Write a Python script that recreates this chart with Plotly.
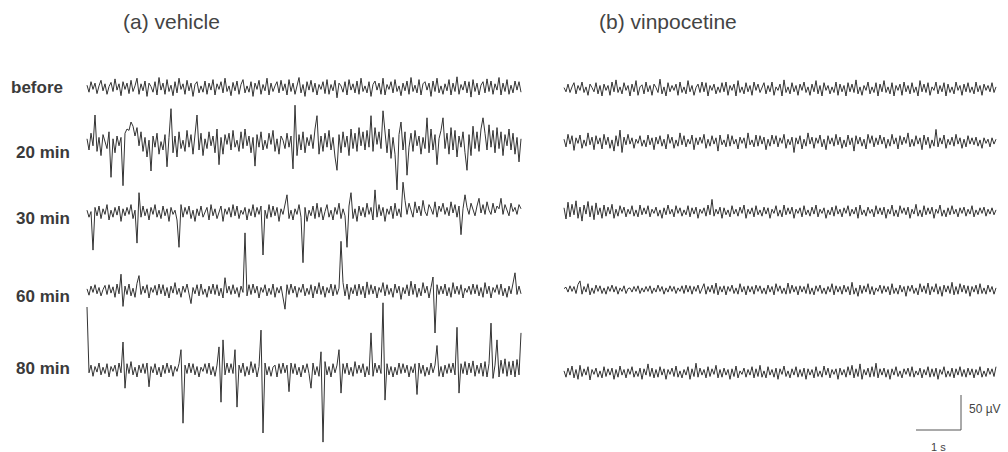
import numpy as np
import plotly.graph_objects as go

# ---------------- data (µV) ----------------
ROW_LABELS = ["before", "20 min", "30 min", "60 min", "80 min"]
PANEL_TITLES = ["(a) vehicle", "(b) vinpocetine"]

VEH_BEFORE = [4,-6,9,-2,7,-8,3,11,-4,6,-9,2,8,-5,13,-3,6,-11,9,-2,
              7,-8,11,-5,3,14,-9,6,-4,10,-12,7,2,-6,9,-10,15,-3,7,-9,
              12,-5,4,-11,9,-7,14,-2,6,-9,11,-4,7,-12,5,9,-7,3,-6,10,
              -9,7,-3,12,-10,6,-2,9,-7,14,-5,3,-11,8,-4,10,-9,5,12,-7,
              3,-6,9,-12,7,-2,11,-9,5,-4,14,-10,7,-5,3,9,-7,11,-4,6,
              -10,12,-5,7,-9,4,15,-7,5,-12,9,-3,11,-6,7,-10,5,-2,9,-8,
              12,-9,5,-4,11,-14,7,3,-6,9,-10,12,-3,6,-7,10,-9,14,-5,3,
              -7,9,-12,5,10,-3,7,-9,14,-10,5,-2,9,-7,12,-5,3,-11,7,-4,
              10,-9,15,-5,4,-7,12,-10,6,9,-3,7,-12,10,-5,14,-7,3,-9,6,
              -4,12,-10,7,-5,16,-9,5,-3,10,-7,9,-13,12,-5,7,-10,4,9,-7,
              13,-5,10,-9,6,-3,15,-10,7,-5,12,-9,4,-7,10,-3,9,-6]
VEH_20 = [6,-10,14,-4,40,-12,8,-18,12,2,-8,16,-49,6,-14,10,-4,8,-61,14,
          20,18,30,24,10,22,-4,16,-12,8,-20,4,-40,10,-6,14,-16,2,-10,12,
          -34,8,49,-14,10,-20,16,-8,4,-12,18,-6,12,-16,8,40,-10,14,-18,6,
          -8,16,-4,10,-14,20,-31,8,-16,12,-2,14,-10,18,-6,4,-12,16,-8,20,
          -4,10,-14,8,-33,12,-6,16,-10,4,-8,14,-2,18,-12,6,-16,10,4,-8,
          14,-6,10,-37,54,-18,12,-10,16,-14,8,-4,12,-8,20,39,-16,10,-12,14,
          -6,18,-10,8,-20,-39,12,-14,16,-6,10,-18,20,-8,14,-12,22,-4,16,-10,
          18,-6,39,-12,22,-2,16,-8,46,10,-14,20,-22,8,-16,-67,12,30,-10,16,
          -46,-6,14,-12,18,-4,10,-16,8,-8,36,-14,20,-10,12,-31,6,18,36,-8,
          14,-16,22,-10,18,-20,10,-6,16,-14,-39,12,-18,24,-8,16,-12,20,36,14,
          -10,26,-6,18,-14,22,-8,16,-18,12,-4,20,-10,14,-16,8,-27,6]
VEH_30 = [4,-6,2,-53,8,-4,10,-8,6,-2,12,-10,4,-6,8,-3,10,-12,6,-4,
          8,-2,12,-8,4,-43,29,-6,10,-4,6,-10,8,-2,12,-6,4,-8,10,-4,
          6,-12,8,-2,4,-10,-49,12,-6,8,-2,10,-8,4,-12,6,-4,10,-6,2,
          8,-10,12,-4,6,-8,2,10,-12,6,-2,8,-6,12,-4,10,-8,4,-2,8,
          -10,6,-4,12,-6,8,-2,10,-60,4,-8,12,-6,10,-4,8,-12,6,-2,10,
          26,-8,4,-10,6,-2,12,-6,-71,8,-12,4,-4,10,-8,14,-6,8,-10,2,
          12,-6,4,-10,8,-2,14,-8,6,-4,-49,10,29,-8,6,-12,10,-4,8,-6,
          14,-2,8,-10,33,-6,12,-4,8,-12,6,-2,10,-8,14,-4,6,-6,44,18,
          -2,14,4,-6,16,0,10,-4,18,2,-4,12,6,-2,16,-6,10,2,14,-2,
          8,-4,16,0,12,-6,10,-31,6,26,8,-2,14,4,-4,10,21,0,12,-2,
          16,4,-2,14,0,10,6,21,-2,12,4,-4,14,2,8,-2,12,6]
VEH_60 = [3,-6,7,-2,9,-4,5,-7,2,8,-5,9,-3,6,-9,10,-4,24,-22,7,
          -5,10,-7,4,-9,11,22,-5,7,-3,9,-10,5,-2,8,-6,10,-4,9,-7,
          5,-10,7,-3,12,-5,4,-9,7,-2,10,-7,-18,5,-4,9,-7,10,-5,3,
          -9,7,-4,10,-5,9,-7,4,-10,19,-3,7,-5,9,-4,5,-9,7,-2,83,
          -7,9,-5,10,-3,7,-10,5,-2,9,-7,4,-5,10,-9,5,-3,7,-10,-26,
          9,-5,10,-3,7,-9,5,-2,10,-7,4,-5,9,-10,7,-4,12,-5,7,-9,
          5,-3,10,-7,9,-5,4,71,12,-7,10,-12,5,-4,9,-7,10,-5,7,-10,
          13,-5,9,-4,7,-10,5,-2,12,-7,9,-5,4,-9,10,-3,7,-12,5,-4,
          9,-7,14,-5,10,-9,4,-7,12,-3,7,-10,5,20,-60,9,-5,7,-4,10,
          -7,5,-9,12,-4,7,-5,9,-10,4,-2,7,-5,10,-4,9,-7,5,-9,12,
          -4,7,-10,5,-2,9,-5,10,-7,4,-9,7,-4,10,26,-5,7,-4]
VEH_80 = [90,-4,7,-9,5,-3,10,-7,4,-5,9,-10,5,-2,7,-9,10,-4,40,-26,
          9,-5,12,-7,4,-10,7,-4,9,-5,10,-24,5,-4,9,-7,4,-10,7,-5,
          10,-4,7,-9,5,-2,9,29,-76,7,-5,10,-4,9,-7,5,-10,4,-2,9,
          -5,10,-7,5,-9,7,33,-46,43,-7,10,-4,9,-5,29,-53,7,-4,10,-9,
          5,-7,12,-4,9,-10,5,57,-90,10,-7,5,-9,4,7,-10,9,-5,10,-4,
          7,-31,10,-5,9,-7,4,-10,7,-4,9,-5,-26,10,-7,5,-9,26,-103,12,
          -7,5,-10,9,-4,7,29,-33,9,-5,10,-7,4,-9,12,-5,7,-4,9,-10,
          5,-7,53,-9,10,-4,7,-5,96,-43,9,-7,5,-10,4,-7,10,-5,9,-4,
          7,-10,5,-4,9,-35,10,-5,7,-9,4,-7,10,-4,7,35,-9,5,-10,7,
          -5,9,-4,10,-7,61,-33,9,-5,12,-7,10,-4,13,-9,7,-5,10,-9,12,
          -10,9,67,-12,7,43,-10,14,-5,16,-9,12,-7,13,-10,15,-7,53]

VIN_BEFORE = [2,-4,7,-5,3,9,-7,5,-2,10,-5,3,-9,7,2,-4,9,-7,5,-10,
              7,-2,5,-9,10,-4,13,-5,3,-7,9,-2,5,-10,7,-4,12,-9,3,6,
              -7,10,-4,5,-9,7,2,-5,14,-7,3,-10,9,-4,5,-2,7,-9,10,-5,
              3,-7,12,-4,5,-9,2,7,-5,10,-4,9,-10,5,-2,7,-7,3,-5,9,
              -4,10,-9,5,-2,7,-10,12,-5,3,-7,9,-4,5,-9,10,-2,7,-5,3,
              9,-7,5,-4,10,-9,3,-2,7,-10,13,-5,3,-7,9,-4,5,-9,7,-2,
              10,-5,3,-9,7,-4,12,-7,5,-10,9,-2,5,-7,3,-5,10,-9,7,-4,
              5,-10,9,-4,7,-5,13,-7,3,-9,5,-2,10,-7,3,-5,9,-10,7,-4,
              12,-5,3,-7,9,-10,5,-2,7,-9,10,-4,5,-7,9,-5,3,-10,12,-4,
              7,-5,9,-9,3,-2,10,-7,5,-4,9,-10,7,-5,3,-7,10,-2,5,-9,
              7,-4,9,-5,3,-7,10,-4,5,-9,7,-2,5,-4,9,-5,3]
VIN_20 = [4,-7,11,-3,9,-12,6,-2,10,-9,3,-6,13,-4,7,-11,9,-3,6,-10,
          11,-4,7,-9,3,-13,9,-6,17,-15,7,-4,11,-3,6,-9,4,-2,9,-6,
          3,-7,10,-4,6,-11,7,-3,9,-6,4,-10,11,-2,7,-9,3,-6,13,-4,
          9,-7,4,-3,10,-11,6,-4,7,-2,11,-9,4,-6,9,-3,6,-13,10,-4,
          3,-7,11,-6,9,-3,4,-10,7,-2,6,-9,13,-4,3,-7,10,-6,9,-3,
          7,-11,4,-6,10,-3,9,-7,6,-2,11,-9,4,-4,7,-15,6,-3,9,-10,
          4,-6,13,-3,7,-9,6,-2,10,-7,4,-11,9,-3,6,-6,11,-4,7,-9,
          3,-7,10,-4,6,-13,9,-3,7,-6,4,-10,11,-2,9,-7,6,-4,10,-3,
          7,-9,4,-6,11,-3,6,-10,9,-4,7,-2,13,-7,4,-6,9,-3,6,-11,
          10,-4,7,-9,3,-6,18,-7,6,-3,10,-9,4,-4,7,-6,11,-3,6,-9,
          4,-7,9,-3,6,-4,7,-6,3,-9,6,-2,4,-7,6,-3,4]
VIN_30 = [6,-10,14,-7,11,-4,16,-9,7,-13,10,-3,15,-7,9,-11,13,-4,6,-9,
          10,-6,7,-3,11,-9,4,-6,9,-2,7,-7,4,-3,9,-6,3,-7,10,-4,
          6,-3,9,-7,4,-2,7,-6,3,-9,6,-4,10,-3,4,-7,9,-2,6,-6,
          3,-4,9,-7,6,-3,7,-9,4,-2,6,-6,10,-4,18,-6,4,-3,7,-9,
          6,-4,3,-7,9,-3,4,-6,7,-2,10,-9,4,-3,6,-7,9,-4,3,-6,
          7,-3,6,-9,4,-2,9,-6,3,-7,10,-4,6,-3,7,-9,4,-2,6,-7,
          9,-4,3,-6,7,-3,10,-7,4,-2,6,-9,3,-4,7,-6,9,-3,4,-7,
          6,-2,9,-6,4,-3,7,-9,10,-4,3,-6,7,-2,4,-7,9,-3,6,-4,
          7,-9,4,-3,10,-6,3,-7,9,-2,6,-4,7,-9,4,-3,11,-6,3,-7,
          9,-4,6,-3,7,-9,4,-2,10,-6,3,-7,6,-4,9,-3,4,-7,6,-2,
          7,-6,4,-3,9,-7,3,-4,6,-2,7,-6,4,-3,6,-4,3]
VIN_60 = [2,4,-3,6,-2,5,-5,8,13,-6,5,-3,9,-7,3,-5,7,-2,6,-5,
          3,-6,5,-2,7,-3,5,-6,3,-2,6,-5,2,3,-3,5,-2,6,-5,3,
          -3,5,-2,6,-5,3,-3,7,-2,5,-6,3,-3,6,-2,5,-5,3,-2,6,
          -5,7,-3,6,-6,5,-2,7,-5,3,9,-6,5,-3,7,-5,10,-7,5,-3,
          6,-7,5,-2,7,-5,3,-6,9,-3,5,-7,6,-3,5,-6,7,-2,6,-5,
          3,-6,7,-3,5,-7,9,-2,6,-5,3,-6,10,-5,7,-3,5,-7,6,-3,
          5,-5,9,-6,3,-7,6,-2,7,-5,3,-6,5,-3,9,-7,6,-3,5,-6,
          7,-3,5,-7,11,-6,3,-9,7,-5,6,-3,9,-6,5,-7,3,-2,7,-5,
          6,-3,5,-7,9,-5,3,-6,7,-3,5,-9,6,-2,7,-5,3,-7,9,-3,
          6,-5,10,-7,5,-3,9,-6,5,-9,7,-3,6,-5,11,-7,5,-6,9,-3,
          7,-5,6,-9,5,-3,7,-6,9,-5,3,-6,7,-3,5,-6,3]
VIN_80 = [3,-6,7,-3,10,-7,5,-9,11,-5,6,-3,9,-10,5,-2,7,-6,3,-7,
          9,-5,6,-3,7,-9,5,-6,10,-3,5,-7,6,-2,9,-6,3,-5,7,-9,
          6,-3,13,-5,7,-7,5,-6,9,-3,6,-9,5,-2,7,-5,10,-6,3,-7,
          5,-3,9,-9,6,-5,14,-6,7,-3,5,-7,9,-5,6,-2,11,-7,5,-6,
          7,-3,5,-9,6,-5,10,-7,3,-2,7,-6,5,-3,9,-7,6,-5,11,-6,
          3,-7,9,-3,5,-6,7,-9,6,-2,10,-5,3,-7,6,-3,9,-6,5,-5,
          7,-9,6,-3,5,-7,9,-5,3,-6,10,-3,7,-7,5,-2,6,-9,7,-3,
          5,-6,9,-3,11,-7,6,-5,13,-9,5,-3,7,-6,9,-5,14,-7,6,-3,
          7,-6,5,-9,6,-3,9,-5,3,-7,6,-2,7,-5,9,-6,3,-3,7,-7,
          5,-3,9,-6,6,-5,7,-9,5,-2,9,-6,3,-5,7,-7,6,-3,9,-5,
          5,-6,7,-3,6,-7,5,-3,9,-6,3,-5,7,-2,6,-5,9]

VEHICLE = [VEH_BEFORE, VEH_20, VEH_30, VEH_60, VEH_80]
VINPO = [VIN_BEFORE, VIN_20, VIN_30, VIN_60, VIN_80]

DT = 2 / 45.0          # s between samples
SCALE_UV = 50          # scale bar, µV
SCALE_S = 1            # scale bar, s

# ---------------- layout (pixel geometry) ----------------
W, H = 1008, 452
PX_PER_S = 45.0
PX_PER_UV = 35.0 / 50.0
VEH_ROWS_PX = [88, 143, 213, 291, 370]
VIN_ROWS_PX = [89, 142, 212, 290, 373]
LABEL_Y_PX = [88, 152, 218, 296, 368]
VEH_X0_PX, VIN_X0_PX = 87, 564
COLOR = "#333333"
FONT = "Liberation Sans, Arial, Helvetica, sans-serif"


def y_uv(py):
    return (H - py) / PX_PER_UV


fig = go.Figure()
for series, rows, x0 in [(VEHICLE, VEH_ROWS_PX, VEH_X0_PX), (VINPO, VIN_ROWS_PX, VIN_X0_PX)]:
    for vals, py in zip(series, rows):
        v = np.asarray(vals, dtype=float)
        t = x0 / PX_PER_S + np.arange(len(v)) * DT
        fig.add_trace(go.Scatter(x=t, y=v + y_uv(py), mode="lines",
                                 line=dict(color=COLOR, width=1), hoverinfo="skip",
                                 showlegend=False))

# scale bar
bx, by = 961 / PX_PER_S, y_uv(430)
fig.add_trace(go.Scatter(x=[bx - SCALE_S, bx, bx], y=[by, by, by + SCALE_UV], mode="lines",
                         line=dict(color="#555", width=1), hoverinfo="skip", showlegend=False))

ann = []
for lab, py in zip(ROW_LABELS, LABEL_Y_PX):
    ann.append(dict(x=(9 if lab == "before" else 14) / W, y=1 - py / H, xref="paper", yref="paper",
                    text=f"<b>{lab}</b>", showarrow=False, xanchor="left", yanchor="middle",
                    font=dict(family=FONT, size=17, color="#3a3a3a")))
for title, px in zip(PANEL_TITLES, [121, 597]):
    ann.append(dict(x=px / W, y=1 - 22 / H, xref="paper", yref="paper", text=title,
                    showarrow=False, xanchor="left", yanchor="middle",
                    font=dict(family=FONT, size=21, color="#444")))
ann.append(dict(x=967 / W, y=1 - 409 / H, xref="paper", yref="paper", text=f"{SCALE_UV} µV",
                showarrow=False, xanchor="left", yanchor="middle",
                font=dict(family=FONT, size=12, color="#444")))
ann.append(dict(x=938 / W, y=1 - 447 / H, xref="paper", yref="paper", text=f"{SCALE_S} s",
                showarrow=False, xanchor="center", yanchor="middle",
                font=dict(family=FONT, size=11, color="#444")))

fig.update_layout(width=W, height=H, margin=dict(l=0, r=0, t=0, b=0),
                  paper_bgcolor="white", plot_bgcolor="white", annotations=ann,
                  xaxis=dict(range=[0, W / PX_PER_S], visible=False, fixedrange=True),
                  yaxis=dict(range=[0, H / PX_PER_UV], visible=False, fixedrange=True))
fig.write_html("out.html", config={"displayModeBar": False})
